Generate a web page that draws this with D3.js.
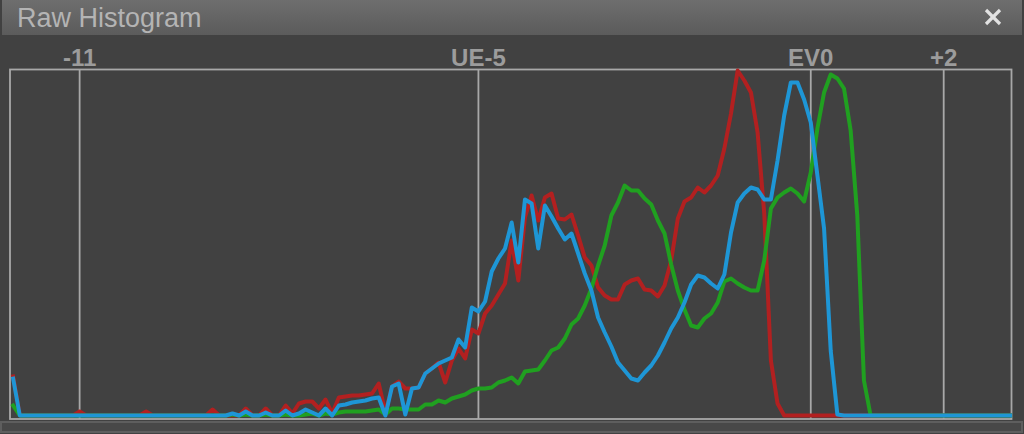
<!DOCTYPE html>
<html>
<head>
<meta charset="utf-8">
<script src="https://cdn.jsdelivr.net/npm/d3@7"></script>
<style>
  body { margin: 0; background: #414141; overflow: hidden; }
  svg { display: block; }
</style>
</head>
<body>
<script>
// Raw histogram panel - three channels, bins every 0.1 EV starting at -12 EV

var width = 1024;
var height = 434;

var binStartEV = -12.0;
var binStepEV = 0.1;

var markerEVs = [-11, -5, 0, 2];
var markerLabels = ["-11", "UE-5", "EV0", "+2"];

// counts per bin (151 bins)
var redCounts = [
  39,0,0,0,0,0,0,0,0,0, 4,0,0,0,0,0,0,0,0,0,
  4,0,0,0,0,0,0,0,0,0, 6,0,0,0,0,7,0,0,7,0,
  0,10,2,12,14,14,7,16,2,18, 19,20,20,21,22,32,3,29,34,27,
  27,28,42,47,53,33,55,67,57,86, 82,102,110,121,132,175,135,198,220,195,
  218,222,197,196,201,180,158,150,128,120, 116,116,131,135,137,126,125,119,130,155,
  197,214,218,228,223,230,240,267,302,345, 335,323,283,202,55,12,0,0,0,0,
  0,0,0,0,0,0,0,0,0,0, 0,0,0,0,0,0,0,0,0,0,
  0,0,0,0,0,0,0,0,0,0, 0
];

var greenCounts = [
  10,0,0,0,0,0,0,0,0,0, 0,0,0,0,0,0,0,0,0,0,
  0,0,0,0,0,0,0,0,0,0, 0,0,0,1,0,1,0,0,1,0,
  0,1,0,0,1,2,0,2,1,3, 4,4,4,4,5,6,1,7,7,6,
  6,6,11,11,15,13,17,19,21,25, 27,27,28,33,35,38,32,44,45,46,
  55,65,68,77,91,97,110,127,150,170, 200,213,230,225,225,217,211,195,182,151,
  125,106,90,88,97,102,113,134,137,132, 128,125,125,155,207,218,223,227,222,214,
  243,287,323,341,337,327,285,200,35,0, 0,0,0,0,0,0,0,0,0,0,
  0,0,0,0,0,0,0,0,0,0, 0
];

var blueCounts = [
  37,0,0,0,0,0,0,0,0,0, 0,0,0,0,0,0,0,0,0,0,
  0,0,0,0,0,0,0,0,0,0, 0,0,0,2,0,4,0,0,3,0,
  0,5,0,2,6,3,0,7,0,10, 11,13,14,15,17,18,0,29,32,1,
  27,28,42,47,52,55,58,76,68,108, 104,114,144,157,167,193,153,216,212,167,
  210,199,187,176,182,162,142,125,98,83, 69,53,45,37,35,43,50,60,73,87,
  98,113,131,140,138,132,127,141,183,213, 222,228,226,216,216,255,300,333,333,316,
  293,240,187,65,1,0,0,0,0,0, 0,0,0,0,0,0,0,0,0,0,
  0,0,0,0,0,0,0,0,0,0, 0
];

var channelColors = ["#b22020", "#20a020", "#1e96d6"];

var svg = d3.select("body").append("svg")
  .attr("width", width)
  .attr("height", height);

// title bar
var grad = svg.append("defs").append("linearGradient")
  .attr("id", "barGrad")
  .attr("x1", 0).attr("y1", 0).attr("x2", 0).attr("y2", 1);
grad.append("stop").attr("offset", "0%").attr("stop-color", "#6e6e6e");
grad.append("stop").attr("offset", "100%").attr("stop-color", "#5b5b5b");

svg.append("rect")
  .attr("x", 2).attr("y", 0)
  .attr("width", 1020).attr("height", 35)
  .attr("fill", "url(#barGrad)");

svg.append("text")
  .attr("x", 17).attr("y", 27)
  .attr("font-family", "'Liberation Sans', Arial, sans-serif")
  .attr("font-size", 27)
  .attr("fill", "#b4b4b4")
  .text("Raw Histogram");

// close button
var closeG = svg.append("g")
  .attr("stroke", "#e2e2e2")
  .attr("stroke-width", 3.2);
closeG.append("line").attr("x1", 986).attr("y1", 10).attr("x2", 1000).attr("y2", 24);
closeG.append("line").attr("x1", 1000).attr("y1", 10).attr("x2", 986).attr("y2", 24);

// scales
var x = d3.scaleLinear()
  .domain([-12.04, 3.02])
  .range([10.5, 1011.5]);

var y = d3.scaleLinear()
  .domain([0, 345])
  .range([415.5, 70.5]);

var plotTop = 69.5;
var plotBottom = 419;

// marker lines + labels
svg.selectAll(".marker")
  .data(markerEVs)
  .enter().append("line")
    .attr("class", "marker")
    .attr("x1", function(d) { return x(d); })
    .attr("x2", function(d) { return x(d); })
    .attr("y1", plotTop)
    .attr("y2", plotBottom)
    .attr("stroke", "#a8a8a8")
    .attr("stroke-width", 1.8);

svg.selectAll(".markerLabel")
  .data(markerEVs)
  .enter().append("text")
    .attr("class", "markerLabel")
    .attr("x", function(d) { return x(d); })
    .attr("y", 66)
    .attr("text-anchor", "middle")
    .attr("font-family", "'Liberation Sans', Arial, sans-serif")
    .attr("font-weight", "bold")
    .attr("font-size", 24)
    .attr("fill", "#9c9c9c")
    .text(function(d, i) { return markerLabels[i]; });

// plot frame
svg.append("rect")
  .attr("x", 10).attr("y", plotTop)
  .attr("width", 1001.5).attr("height", plotBottom - plotTop)
  .attr("fill", "none")
  .attr("stroke", "#a8a8a8")
  .attr("stroke-width", 1.8);

// bottom strip
svg.append("rect")
  .attr("x", 1).attr("y", 422)
  .attr("width", 1021).attr("height", 10)
  .attr("fill", "#484848")
  .attr("stroke", "#5e5e5e")
  .attr("stroke-width", 2);

// histogram lines
var line = d3.line()
  .x(function(d, i) { return x(binStartEV + i * binStepEV); })
  .y(function(d) { return y(d); });

[redCounts, greenCounts, blueCounts].forEach(function(series, k) {
  svg.append("path")
    .datum(series)
    .attr("d", line)
    .attr("fill", "none")
    .attr("stroke", channelColors[k])
    .attr("stroke-width", 4)
    .attr("stroke-linejoin", "round")
    .attr("stroke-linecap", "square");
});
</script>
</body>
</html>
